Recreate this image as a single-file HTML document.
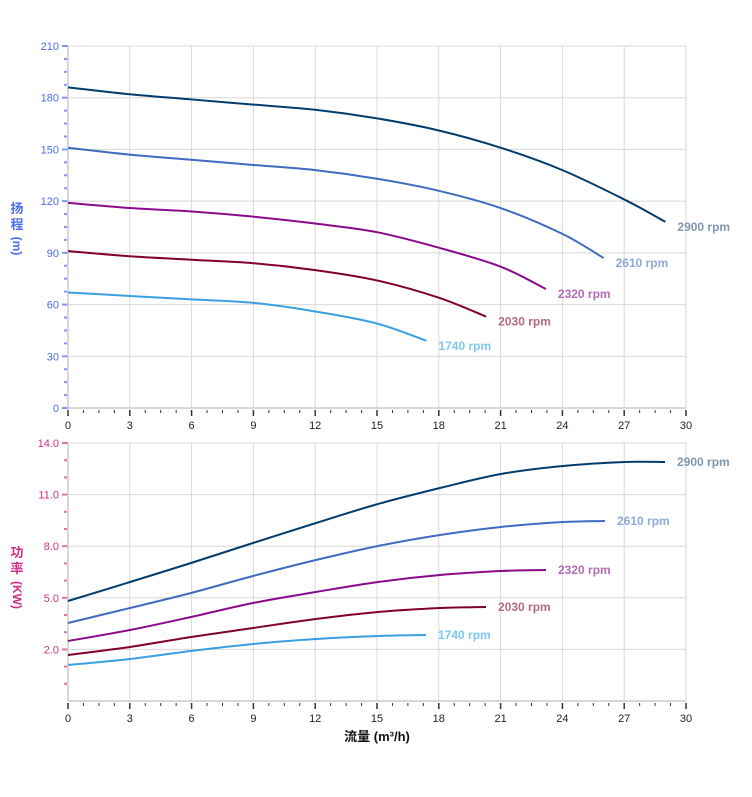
<!DOCTYPE html>
<html><head><meta charset="utf-8"><style>
html,body{margin:0;padding:0;background:#fff;}
svg{display:block;font-family:"Liberation Sans","Noto Sans CJK SC",sans-serif;}
</style></head><body>
<svg id="s" width="752" height="797" xmlns="http://www.w3.org/2000/svg"></svg>
<script>
const s=document.getElementById('s');let h='';
const X0=68,X1=686,ux=(X1-X0)/30;
function qx(q){return X0+q*ux;}
// top chart
const T0=46,TB=408;
const B0=443,BB=701;
// grids
for(let q=3;q<=30;q+=3){h+=`<line x1="${qx(q)}" y1="${T0}" x2="${qx(q)}" y2="${TB}" stroke="#d8d8d8"/>`;h+=`<line x1="${qx(q)}" y1="${B0}" x2="${qx(q)}" y2="${BB}" stroke="#d8d8d8"/>`;}
for(let v=0;v<=210;v+=30){let y=TB-v*(TB-T0)/210;h+=`<line x1="${X0}" y1="${y}" x2="${X1}" y2="${y}" stroke="#d8d8d8"/>`;h+=`<line x1="${X0-6}" y1="${y}" x2="${X0}" y2="${y}" stroke="#7a9af0" stroke-width="2"/>`;h+=`<text x="${X0-9}" y="${y+4}" font-size="11" fill="#4a6cf0" text-anchor="end">${v}</text>`;}
for(let v=7.5;v<210;v+=7.5){if(v%30==0)continue;let y=TB-v*(TB-T0)/210;h+=`<line x1="${X0-4}" y1="${y}" x2="${X0-1}" y2="${y}" stroke="#7a9af0" stroke-width="2"/>`;}
const py=p=>BB-(p+1)*17.2;
for(let v=2;v<=14;v+=3){let y=py(v);h+=`<line x1="${X0}" y1="${y}" x2="${X1}" y2="${y}" stroke="#d8d8d8"/>`;h+=`<line x1="${X0-6}" y1="${y}" x2="${X0}" y2="${y}" stroke="#e070b0" stroke-width="2"/>`;h+=`<text x="${X0-9}" y="${y+4}" font-size="11" fill="#d0308a" text-anchor="end">${v.toFixed(1)}</text>`;}
for(let v=-1;v<14;v++){if((v-2)%3==0)continue;let y=py(v);h+=`<line x1="${X0-4}" y1="${y}" x2="${X0-1}" y2="${y}" stroke="#e070b0" stroke-width="2"/>`;}
// axes
[TB,BB].forEach(b=>{h+=`<line x1="${X0}" y1="${b}" x2="${X1}" y2="${b}" stroke="#ccc" stroke-width="1.5"/>`;
for(let q=0;q<=30.01;q+=0.75){let maj=Math.abs(q/3-Math.round(q/3))<1e-6;h+=`<line x1="${qx(q)}" y1="${b+2}" x2="${qx(q)}" y2="${b+(maj?8:5)}" stroke="#333" stroke-width="${maj?1.5:1}"/>`;
if(maj)h+=`<text x="${qx(q)}" y="${b+21}" font-size="11" fill="#222" text-anchor="middle">${Math.round(q)}</text>`;}});
h+=`<line x1="${X0}" y1="${T0}" x2="${X0}" y2="${TB}" stroke="#ccc" stroke-width="1.5"/>`;
h+=`<line x1="${X0}" y1="${B0}" x2="${X0}" y2="${BB}" stroke="#ccc" stroke-width="1.5"/>`;
h+=`<line x1="${X1}" y1="${T0}" x2="${X1}" y2="${TB}" stroke="#d8d8d8"/>`;
h+=`<line x1="${X1}" y1="${B0}" x2="${X1}" y2="${BB}" stroke="#d8d8d8"/>`;
// axis titles
h+=`<text x="17" y="213" font-size="13" font-weight="bold" fill="#4a6cf0" text-anchor="middle">扬</text><text x="17" y="229" font-size="13" font-weight="bold" fill="#4a6cf0" text-anchor="middle">程</text><text transform="translate(13,246) rotate(90)" font-size="12" font-weight="bold" fill="#4a6cf0" text-anchor="middle">(m)</text>`;
h+=`<text x="17" y="557" font-size="13" font-weight="bold" fill="#d0308a" text-anchor="middle">功</text><text x="17" y="573" font-size="13" font-weight="bold" fill="#d0308a" text-anchor="middle">率</text><text transform="translate(13,595) rotate(90)" font-size="12" font-weight="bold" fill="#d0308a" text-anchor="middle">(KW)</text>`;
h+=`<text x="377" y="741" font-size="13" font-weight="bold" fill="#111" text-anchor="middle">流量 (m³/h)</text>`;
function path(pts){let d=`M${pts[0][0]},${pts[0][1]}`;for(let i=0;i<pts.length-1;i++){let p0=pts[i-1]||pts[i],p1=pts[i],p2=pts[i+1],p3=pts[i+2]||p2;let c1=[p1[0]+(p2[0]-p0[0])/6,p1[1]+(p2[1]-p0[1])/6],c2=[p2[0]-(p3[0]-p1[0])/6,p2[1]-(p3[1]-p1[1])/6];d+=` C${c1[0]},${c1[1]} ${c2[0]},${c2[1]} ${p2[0]},${p2[1]}`;}return d;}
const hy=v=>TB-v*(TB-T0)/210;
const series=[
{c:"#003d6e",lc:"#7f96ad",l:"2900 rpm",H:[[0,186],[3,182],[6,179],[9,176],[12,173],[15,168],[18,161],[21,151],[24,138],[27,121],[29,108]],P:[[68,601],[130,582],[191,563],[253,543],[316,523],[378,504],[440,488],[501,474],[563,466],[625,462],[665,462]]},
{c:"#3f6cc0",lc:"#8fa9d6",l:"2610 rpm",H:[[0,151],[3,147],[6,144],[9,141],[12,138],[15,133],[18,126],[21,116],[24,101],[26,87]],P:[[68,623],[130,608],[191,593],[253,576],[316,560],[378,546],[440,535],[501,527],[563,522],[605,521]]},
{c:"#8b0a8b",lc:"#b36bb3",l:"2320 rpm",H:[[0,119],[3,116],[6,114],[9,111],[12,107],[15,102],[18,93],[21,82],[23.2,69]],P:[[68,641],[130,630],[191,617],[253,603],[316,592],[378,582],[440,575],[501,571],[546,570]]},
{c:"#800030",lc:"#b06b7f",l:"2030 rpm",H:[[0,91],[3,88],[6,86],[9,84],[12,80],[15,74],[18,64],[20.3,53]],P:[[68,655],[130,647],[191,637],[253,628],[316,619],[378,612],[440,608],[486,607]]},
{c:"#3aa0e0",lc:"#7ec8ef",l:"1740 rpm",H:[[0,67],[3,65],[6,63],[9,61],[12,56],[15,49],[17.4,39]],P:[[68,665],[130,659],[191,651],[253,644],[316,639],[378,636],[426,635]]}];
series.forEach(o=>{let hp=o.H.map(p=>[qx(p[0]),hy(p[1])]);h+=`<path d="${path(hp)}" fill="none" stroke="${o.c}" stroke-width="2"/>`;let e=hp[hp.length-1];h+=`<text x="${e[0]+12}" y="${e[1]+9}" font-size="12" font-weight="bold" fill="${o.lc}">${o.l}</text>`;
h+=`<path d="${path(o.P)}" fill="none" stroke="${o.c}" stroke-width="2"/>`;let f=o.P[o.P.length-1];h+=`<text x="${f[0]+12}" y="${f[1]+4}" font-size="12" font-weight="bold" fill="${o.lc}">${o.l}</text>`;});
s.innerHTML=h;
</script>
</body></html>
